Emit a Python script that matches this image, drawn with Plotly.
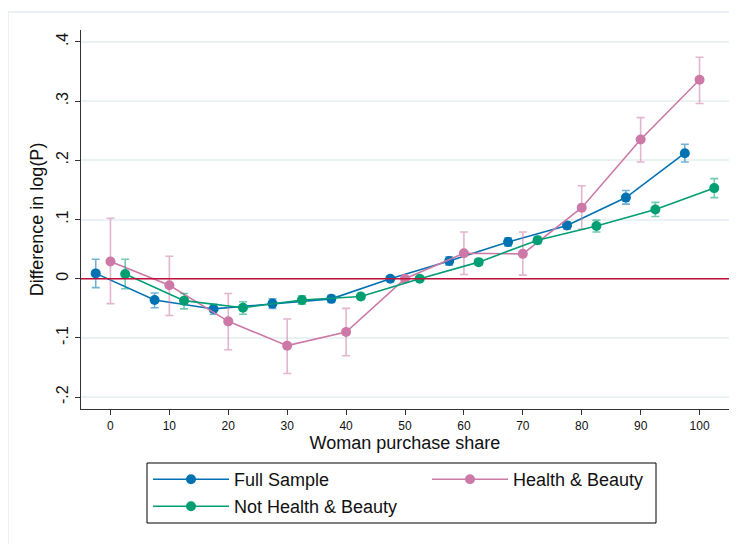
import plotly.graph_objects as go

# ---- data ----
x_full = [-2.5, 7.5, 17.5, 27.5, 37.5, 47.5, 57.5, 67.5, 77.5, 87.5, 97.5]
y_full = [0.009, -0.036, -0.051, -0.042, -0.034, 0.0, 0.030, 0.062, 0.090, 0.137, 0.212]
lo_full = [-0.015, -0.049, -0.060, -0.050, -0.040, -0.003, 0.023, 0.055, 0.084, 0.126, 0.197]
hi_full = [0.033, -0.024, -0.043, -0.034, -0.028, 0.003, 0.037, 0.069, 0.096, 0.149, 0.227]

x_hb = [0, 10, 20, 30, 40, 50, 60, 70, 80, 90, 100]
y_hb = [0.029, -0.011, -0.072, -0.113, -0.090, 0.0, 0.043, 0.042, 0.120, 0.235, 0.336]
lo_hb = [-0.042, -0.062, -0.120, -0.160, -0.130, -0.004, 0.007, 0.006, 0.084, 0.197, 0.296]
hi_hb = [0.102, 0.038, -0.025, -0.068, -0.050, 0.004, 0.079, 0.079, 0.157, 0.272, 0.374]

x_not = [2.5, 12.5, 22.5, 32.5, 42.5, 52.5, 62.5, 72.5, 82.5, 92.5, 102.5]
y_not = [0.008, -0.037, -0.049, -0.036, -0.030, 0.0, 0.028, 0.065, 0.089, 0.117, 0.153]
lo_not = [-0.017, -0.051, -0.060, -0.043, -0.035, -0.003, 0.023, 0.059, 0.079, 0.105, 0.137]
hi_not = [0.033, -0.025, -0.039, -0.029, -0.025, 0.003, 0.033, 0.071, 0.099, 0.129, 0.169]

x_ticks = [0, 10, 20, 30, 40, 50, 60, 70, 80, 90, 100]
y_ticks = [-0.2, -0.1, 0, 0.1, 0.2, 0.3, 0.4]
y_ticktext = ["-.2", "-.1", "0", ".1", ".2", ".3", ".4"]

series = [
    ("Full Sample", x_full, y_full, lo_full, hi_full, "#0072B2", "rgba(0,114,178,0.55)", "legend"),
    ("Health & Beauty", x_hb, y_hb, lo_hb, hi_hb, "#CC79A7", "rgba(204,121,167,0.55)", "legend"),
    ("Not Health & Beauty", x_not, y_not, lo_not, hi_not, "#009E73", "rgba(0,158,115,0.55)", "legend2"),
]

fig = go.Figure()
for name, xs, ys, lo, hi, col, ecol, lg in series:
    fig.add_trace(go.Scatter(
        x=xs, y=ys, name=name, mode="lines+markers", legend=lg,
        line=dict(color=col, width=1.6),
        marker=dict(color=col, size=10, symbol="circle"),
        error_y=dict(type="data", symmetric=False,
                     array=[h - v for h, v in zip(hi, ys)],
                     arrayminus=[v - l for v, l in zip(ys, lo)],
                     color=ecol, thickness=1.6, width=4),
    ))

# page has an 8px body margin: figure coords = screen coords - 8
OFF = 8
W, H = 737 - OFF, 544 - OFF
L, R, T, B = 81 - OFF, 729 - OFF, 30 - OFF, 409 - OFF
def px(x):
    return (x - OFF - L) / (R - L)
def py(y):
    return (B - (y - OFF)) / (B - T)

shapes = [
    dict(type="line", xref="paper", yref="y", x0=0, x1=1, y0=0, y1=0,
         line=dict(color="#C3103C", width=1.6), layer="above"),
    dict(type="line", xref="paper", yref="paper", x0=px(8), x1=px(760), y0=py(12), y1=py(12),
         line=dict(color="#EAF2F3", width=2)),
    dict(type="line", xref="paper", yref="paper", x0=px(8), x1=px(8), y0=py(12), y1=py(560),
         line=dict(color="#EAF2F3", width=2)),
    dict(type="rect", xref="paper", yref="paper", x0=px(147), x1=px(656), y0=py(463), y1=py(523),
         line=dict(color="black", width=1)),
]

leg_common = dict(orientation="h", xanchor="left", yanchor="top",
                  font=dict(size=18, color="#111"), itemwidth=76, entrywidth=188,
                  bgcolor="rgba(0,0,0,0)", borderwidth=0, traceorder="normal")

fig.update_layout(
    width=W, height=H,
    margin=dict(l=L, r=W - R, t=T, b=H - B, autoexpand=False),
    paper_bgcolor="white", plot_bgcolor="white",
    font=dict(family="Liberation Sans, Arial, sans-serif", color="#111"),
    showlegend=True,
    legend=dict(x=px(148), y=py(461), **leg_common),
    legend2=dict(x=px(148), y=py(488), **leg_common),
    shapes=shapes,
    xaxis=dict(range=[-5, 105], tickmode="array", tickvals=x_ticks, automargin=False,
               ticks="outside", ticklen=5, tickwidth=1.2, tickcolor="#333",
               showline=True, linecolor="#333", linewidth=1.3, showgrid=False,
               zeroline=False, tickfont=dict(size=12, color="#111"),
               title=dict(text="Woman purchase share", font=dict(size=18, color="#111"), standoff=2)),
    yaxis=dict(range=[-0.22, 0.42], tickmode="array", tickvals=y_ticks, ticktext=y_ticktext,
               automargin=False,
               tickangle=-90, ticks="outside", ticklen=5, tickwidth=1.2, tickcolor="#333",
               showline=True, linecolor="#333", linewidth=1.3,
               showgrid=True, gridcolor="#EAF2F3", gridwidth=1.5, zeroline=False,
               tickfont=dict(size=16, color="#111"),
               title=dict(text="Difference in log(P)", font=dict(size=18, color="#111"), standoff=6)),
)

fig.write_html("out.html")
